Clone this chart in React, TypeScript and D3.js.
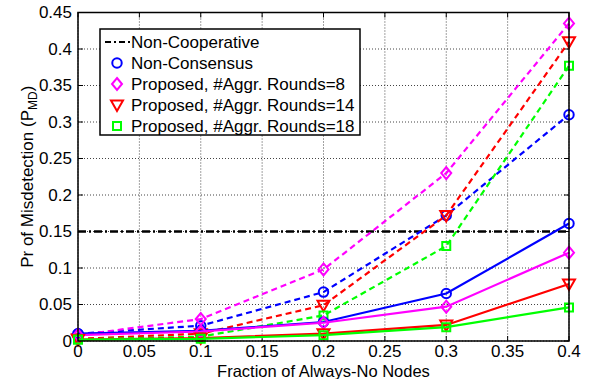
import { useEffect, useRef } from "react"
import * as d3 from "d3"

// fraction of always-no nodes
const fractions = [0, 0.1, 0.2, 0.3, 0.4]

const nonCooperative = [0.15, 0.15, 0.15, 0.15, 0.15]

// dashed set
const nonConsensusA = [0.01, 0.021, 0.067, 0.172, 0.31]
const rounds8A = [0.008, 0.03, 0.098, 0.23, 0.435]
const rounds14A = [0.003, 0.01, 0.049, 0.172, 0.41]
const rounds18A = [0.002, 0.006, 0.035, 0.13, 0.377]

// solid set
const nonConsensusB = [0.01, 0.014, 0.026, 0.065, 0.161]
const rounds8B = [0.008, 0.013, 0.025, 0.047, 0.121]
const rounds14B = [0.002, 0.004, 0.01, 0.022, 0.078]
const rounds18B = [0.002, 0.003, 0.008, 0.019, 0.046]

const xTicks = [0, 0.05, 0.1, 0.15, 0.2, 0.25, 0.3, 0.35, 0.4]
const yTicks = [0, 0.05, 0.1, 0.15, 0.2, 0.25, 0.3, 0.35, 0.4, 0.45]

const legendLabels = [
  "Non-Cooperative",
  "Non-Consensus",
  "Proposed, #Aggr. Rounds=8",
  "Proposed, #Aggr. Rounds=14",
  "Proposed, #Aggr. Rounds=18",
]

type Marker = "circle" | "diamond" | "triangle" | "square"

const font = "Arial, 'Liberation Sans', sans-serif"
const fs = 17

function markerPath(m: Marker) {
  if (m === "circle") return d3.symbol(d3.symbolCircle, 70)()
  if (m === "diamond") return "M0,-6L5,0L0,6L-5,0Z"
  if (m === "triangle") return "M-6,-4.5L6,-4.5L0,6Z"
  return "M-4,-4L4,-4L4,4L-4,4Z"
}

export default function App() {
  const svgRef = useRef<SVGSVGElement>(null)

  useEffect(() => {
    if (!svgRef.current) return
    const width = 593
    const height = 379
    const left = 78
    const right = 569
    const top = 12.5
    const bottom = 341

    const svg = d3.select(svgRef.current).attr("width", width).attr("height", height)
    svg.selectAll("*").remove()

    svg.append("rect").attr("width", width).attr("height", height).attr("fill", "#fff")

    const x = d3.scaleLinear().domain([0, 0.4]).range([left, right])
    const y = d3.scaleLinear().domain([0, 0.45]).range([bottom, top])

    // grid
    const grid = svg.append("g")
    xTicks.forEach((t) => {
      grid
        .append("line")
        .attr("x1", x(t))
        .attr("x2", x(t))
        .attr("y1", top)
        .attr("y2", bottom)
        .attr("stroke", "#444")
        .attr("stroke-width", 1)
        .attr("stroke-dasharray", "1,2")
    })
    yTicks.forEach((t) => {
      grid
        .append("line")
        .attr("x1", left)
        .attr("x2", right)
        .attr("y1", y(t))
        .attr("y2", y(t))
        .attr("stroke", "#444")
        .attr("stroke-width", 1)
        .attr("stroke-dasharray", "1,2")
    })

    // ticks on all four sides, pointing inward
    xTicks.forEach((t) => {
      svg.append("line").attr("x1", x(t)).attr("x2", x(t)).attr("y1", bottom).attr("y2", bottom - 5).attr("stroke", "#000")
      svg.append("line").attr("x1", x(t)).attr("x2", x(t)).attr("y1", top).attr("y2", top + 5).attr("stroke", "#000")
    })
    yTicks.forEach((t) => {
      svg.append("line").attr("x1", left).attr("x2", left + 5).attr("y1", y(t)).attr("y2", y(t)).attr("stroke", "#000")
      svg.append("line").attr("x1", right).attr("x2", right - 5).attr("y1", y(t)).attr("y2", y(t)).attr("stroke", "#000")
    })

    const line = d3
      .line<number>()
      .x((d, i) => x(fractions[i]))
      .y((d) => y(d))

    // non-cooperative baseline
    svg
      .append("path")
      .datum(nonCooperative)
      .attr("d", line)
      .attr("fill", "none")
      .attr("stroke", "#000")
      .attr("stroke-width", 2.5)
      .attr("stroke-dasharray", "8,3,2,3")

    const series: Array<{ values: number[]; color: string; marker: Marker; dashed: boolean }> = [
      { values: nonConsensusA, color: "#0000ff", marker: "circle", dashed: true },
      { values: rounds8A, color: "#ff00ff", marker: "diamond", dashed: true },
      { values: rounds14A, color: "#ff0000", marker: "triangle", dashed: true },
      { values: rounds18A, color: "#00ff00", marker: "square", dashed: true },
      { values: nonConsensusB, color: "#0000ff", marker: "circle", dashed: false },
      { values: rounds8B, color: "#ff00ff", marker: "diamond", dashed: false },
      { values: rounds14B, color: "#ff0000", marker: "triangle", dashed: false },
      { values: rounds18B, color: "#00ff00", marker: "square", dashed: false },
    ]

    series.forEach((s) => {
      svg
        .append("path")
        .datum(s.values)
        .attr("d", line)
        .attr("fill", "none")
        .attr("stroke", s.color)
        .attr("stroke-width", 2.2)
        .attr("stroke-dasharray", s.dashed ? "6,4" : null)
      svg
        .selectAll(null)
        .data(s.values)
        .enter()
        .append("path")
        .attr("d", markerPath(s.marker))
        .attr("transform", (d, i) => `translate(${x(fractions[i])},${y(d)})`)
        .attr("fill", "none")
        .attr("stroke", s.color)
        .attr("stroke-width", 2)
    })

    // axes box
    svg
      .append("rect")
      .attr("x", left)
      .attr("y", top)
      .attr("width", right - left)
      .attr("height", bottom - top)
      .attr("fill", "none")
      .attr("stroke", "#000")
      .attr("stroke-width", 1.5)

    // tick labels
    xTicks.forEach((t) => {
      svg
        .append("text")
        .attr("x", x(t))
        .attr("y", bottom + 16)
        .attr("text-anchor", "middle")
        .attr("font-family", font)
        .attr("font-size", fs)
        .text(String(t))
    })
    yTicks.forEach((t) => {
      svg
        .append("text")
        .attr("x", left - 6)
        .attr("y", y(t))
        .attr("dy", "0.35em")
        .attr("text-anchor", "end")
        .attr("font-family", font)
        .attr("font-size", fs)
        .text(String(t))
    })

    // axis titles
    svg
      .append("text")
      .attr("x", (left + right) / 2)
      .attr("y", 377)
      .attr("text-anchor", "middle")
      .attr("font-family", font)
      .attr("font-size", 16.5)
      .text("Fraction of Always-No Nodes")

    const yl = svg
      .append("text")
      .attr("transform", `translate(33,${(top + bottom) / 2}) rotate(-90)`)
      .attr("text-anchor", "middle")
      .attr("font-family", font)
      .attr("font-size", fs)
    yl.append("tspan").text("Pr of Misdetection (P")
    yl.append("tspan").attr("font-size", 12).attr("dy", 4).text("MD")
    yl.append("tspan").attr("dy", -4).text(")")

    // legend
    const lg = svg.append("g")
    lg.append("rect")
      .attr("x", 100)
      .attr("y", 29)
      .attr("width", 260)
      .attr("height", 106)
      .attr("fill", "#fff")
      .attr("stroke", "#000")
      .attr("stroke-width", 1.5)

    const legendStyle: Array<{ color: string; marker: Marker | null }> = [
      { color: "#000", marker: null },
      { color: "#0000ff", marker: "circle" },
      { color: "#ff00ff", marker: "diamond" },
      { color: "#ff0000", marker: "triangle" },
      { color: "#00ff00", marker: "square" },
    ]

    legendLabels.forEach((label, i) => {
      const cy = 42 + i * 21
      const st = legendStyle[i]
      if (st.marker === null) {
        lg.append("line")
          .attr("x1", 105)
          .attr("x2", 130)
          .attr("y1", cy)
          .attr("y2", cy)
          .attr("stroke", "#000")
          .attr("stroke-width", 2)
          .attr("stroke-dasharray", "6,3,2,3")
      } else {
        lg.append("path")
          .attr("d", markerPath(st.marker))
          .attr("transform", `translate(117,${cy})`)
          .attr("fill", "none")
          .attr("stroke", st.color)
          .attr("stroke-width", 2)
      }
      lg.append("text")
        .attr("x", 131)
        .attr("y", cy)
        .attr("dy", "0.35em")
        .attr("font-family", font)
        .attr("font-size", fs)
        .text(label)
    })
  }, [])

  return <svg ref={svgRef} style={{ position: "absolute", left: 0, top: 0 }} />
}
